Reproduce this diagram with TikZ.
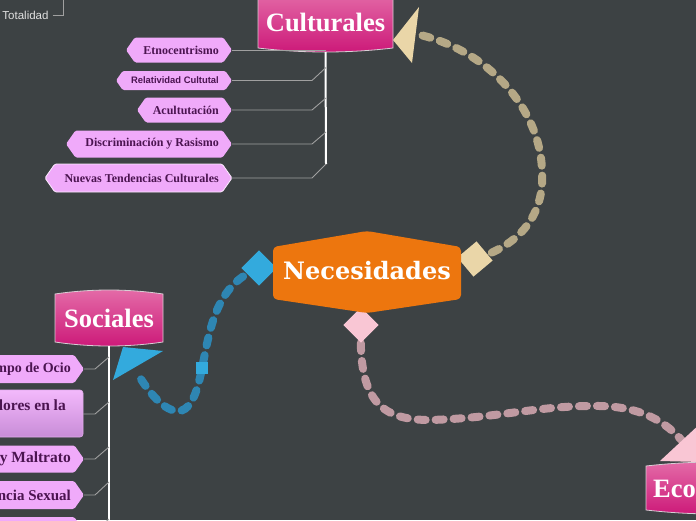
\documentclass[tikz,border=0pt]{standalone}
\usepackage{fontspec}
\setmainfont{Liberation Serif}
\newfontfamily\hdrfont{Liberation Serif}
\newfontfamily\necfont{DejaVu Serif}
\newfontfamily\sansf{Liberation Sans}
\usetikzlibrary{calc}
\definecolor{bgc}{RGB}{61,66,68}
\definecolor{chipfill}{RGB}{240,170,250}
\definecolor{chiptext}{RGB}{75,20,80}
\definecolor{branchc}{RGB}{160,160,160}
\definecolor{hdrtop}{RGB}{228,108,168}
\definecolor{hdrmid}{RGB}{214,60,142}
\definecolor{hdrbot}{RGB}{204,24,120}
\definecolor{hdrline}{RGB}{215,205,212}
\definecolor{necfill}{RGB}{237,118,14}
\definecolor{blueL}{RGB}{51,170,221}
\definecolor{blueD}{RGB}{46,134,179}
\definecolor{beigeL}{RGB}{234,214,168}
\definecolor{beigeD}{RGB}{181,168,134}
\definecolor{pinkL}{RGB}{249,198,212}
\definecolor{mauveD}{RGB}{192,154,162}
\definecolor{totc}{RGB}{225,225,225}
\newcommand\socfont[1]{\fontsize{#1}{16}\selectfont}
\pgfdeclarelayer{bgl}
\pgfdeclarelayer{conl}
\pgfsetlayers{bgl,conl,main}
\tikzset{
  branch/.style={draw=branchc, line width=0.9pt},
  spine/.style={draw=white, line width=2pt},
  chiptxt/.style={text=chiptext, font=\bfseries\fontsize{12}{14}\selectfont, inner sep=0pt},
  hdrtxt/.style={text=white, font=\hdrfont\bfseries\fontsize{26.5}{30}\selectfont, inner sep=0pt},
  nectxt/.style={text=white, font=\necfont\bfseries\fontsize{24}{28}\selectfont, inner sep=0pt},
  tottxt/.style={text=totc, font=\sansf\fontsize{11.5}{13}\selectfont, inner sep=0pt},
  diam/.style={minimum size=25pt, inner sep=0pt, rotate=45},
  sqr/.style={fill=blueL, minimum size=12pt, inner sep=0pt},
  conn/.style={line width=8pt, line cap=round, dash pattern=on 8pt off 10pt},
}
% chip: [style], name, left x, right x, centre y, half height, text
\newcommand\chip[7][]{%
  \fill[chipfill, rounded corners=1.5pt, #1] (#3,#5) -- ({#3+0.7*#6},{#5-#6}) -- ({#4-0.7*#6},{#5-#6}) -- (#4,#5) -- ({#4-0.7*#6},{#5+#6}) -- ({#3+0.7*#6},{#5+#6}) -- cycle;
  \node[chiptxt, anchor=east] (#2) at ({#4-13},#5) {#7};
  \coordinate (#2-r) at (#4,#5);
}
% header shape: x1, y1, x2, y2
\newcommand\hdrshape[4]{%
  \shade[top color=hdrtop, middle color=hdrmid, bottom color=hdrbot, draw=hdrline, line width=0.8pt]
   (#1,{#2+4}) .. controls ({#1+(#3-#1)/3},{#2-1.33}) and ({#3-(#3-#1)/3},{#2-1.33}) .. (#3,{#2+4})
   -- (#3,{#4-4}) .. controls ({#3-(#3-#1)/3},{#4+1.33}) and ({#1+(#3-#1)/3},{#4+1.33}) .. (#1,{#4-4}) -- cycle;
}
% header: name, x1, y1, x2, y2, text
\newcommand\hdr[6]{%
  \hdrshape{#2}{#3}{#4}{#5}
  \node[hdrtxt] (#1) at ({(#2+#4)/2},{(#3+#5)/2}) {#6};
  \coordinate (#1-b) at ({(#2+#4)/2},#5);
}
\begin{document}
\begin{tikzpicture}[x=1pt,y=-1pt]
\begin{pgfonlayer}{bgl}
\fill[bgc] (0,0) rectangle (696,520);
\end{pgfonlayer}
\useasboundingbox (0,0) rectangle (696,520);

% Totalidad
\node[tottxt] (tot) at (25.5,15) {Totalidad};
\coordinate (totup) at (63,-3);
\draw[branch] ([xshift=4pt]tot.east) -| (totup);

% triangles (arrow heads)
\fill[blueL] (113,380) -- (123,347) -- (163,351) -- cycle;
\coordinate (tsoc) at (136,371);
\fill[beigeL] (393,40) -- (419,7) -- (412,63) -- cycle;
\coordinate (tcul) at (416,34);
\fill[pinkL] (660,461) -- (702,422) -- (702,462) -- cycle;
\coordinate (teco) at (685,444);

% headers
\hdr{cul}{258}{-8}{393}{52}{Culturales}
\hdr{soc}{55}{290}{163}{346}{Sociales}
\hdrshape{646}{462}{785}{514}
\node[hdrtxt, anchor=west] (eco) at (653,488) {Económicas};

% Culturales children
\chip{etno}{126}{232}{50}{12.5}{Etnocentrismo}
\chip{rel}{116}{232}{80.5}{9.5}{\sansf\bfseries\fontsize{9.4}{10}\selectfont Relatividad Cultutal}
\chip{acul}{137}{232}{110}{12.5}{Acultutación}
\chip{disc}{66}{232}{144}{13.5}{Discriminación y Rasismo}
\chip[draw=white!75!chipfill, line width=0.8pt]{nuev}{45}{232}{178}{14}{Nuevas Tendencias Culturales}

\coordinate (cknee) at (312,0);
\draw[spine] (cul-b) -- (326,164) coordinate (culend);
\draw[branch] (etno-r) -- (etno-r -| cul-b);
\draw[branch] (rel-r) -- (rel-r -| cknee) -- ++(14,-13);
\draw[branch] (acul-r) -- (acul-r -| cknee) -- ++(14,-12);
\draw[branch] (disc-r) -- (disc-r -| cknee) -- ++(14,-12);
\draw[branch] (nuev-r) -- (nuev-r -| cknee) -- (culend);

% Sociales children
\chip{ocio}{-80}{84}{369}{14}{\socfont{14} Tiempo de Ocio}
\shade[top color={rgb,255:red,243;green,185;blue,252}, bottom color={rgb,255:red,200;green,140;blue,215}, draw={rgb,255:red,225;green,170;blue,235}, line width=0.6pt, rounded corners=3pt] (-20,390) rectangle (83,437);
\node[chiptxt, anchor=east] (valo) at (66,405) {\socfont{15.5}Valores en la};
\coordinate (valo-r) at (83,414);
\chip{malt}{-80}{84}{459}{13.5}{\socfont{15.5} Abuso y Maltrato}
\chip{sexu}{-80}{84}{495}{14}{\socfont{15} Violencia Sexual}
\chip{last}{-80}{84}{531}{14}{}

\coordinate (sknee) at (95,0);
\draw[spine] (soc-b) -- (109,560) coordinate (socend);
\draw[branch] (ocio-r) -- (ocio-r -| sknee) -- ++(14,-12);
\draw[branch] (valo-r) -- (valo-r -| sknee) -- ++(14,-12);
\draw[branch] (malt-r) -- (malt-r -| sknee) -- ++(14,-12);
\draw[branch] (sexu-r) -- (sexu-r -| sknee) -- ++(14,-13);
\draw[branch] (last-r) -- (last-r -| sknee) -- ++(14,-12);

% diamonds
\node[diam, fill=blueL] (dsoc) at (259,268) {};
\node[diam, fill=beigeL, rotate=-5] (dcul) at (475,259) {};
\node[diam, fill=pinkL] (deco) at (361,325) {};

% central node
\fill[necfill, rounded corners=4pt] (273,247) -- (367,231) -- (461,247) -- (461,299) -- (367,313) -- (273,299) -- cycle;
\node[nectxt] (nec) at (367,271) {Necesidades};

% connectors
\begin{pgfonlayer}{conl}
\draw[conn, draw=blueD] (dsoc.center) .. controls (215,285) and (210,330) .. (202,368) node[sqr] (mid) {}
  .. controls (196,400) and (188,411) .. (178,411) .. controls (165,411) and (150,395) .. (tsoc);
\draw[conn, draw=beigeD] (dcul.center) .. controls (520,245) and (545,215) .. (542,170)
  .. controls (540,110) and (490,50) .. (tcul);
\draw[conn, draw=mauveD] (deco.center) .. controls (358,400) and (380,420) .. (430,420)
  .. controls (500,418) and (540,405) .. (600,406) .. controls (640,407) and (665,420) .. (teco);
\end{pgfonlayer}
\end{tikzpicture}
\end{document}
